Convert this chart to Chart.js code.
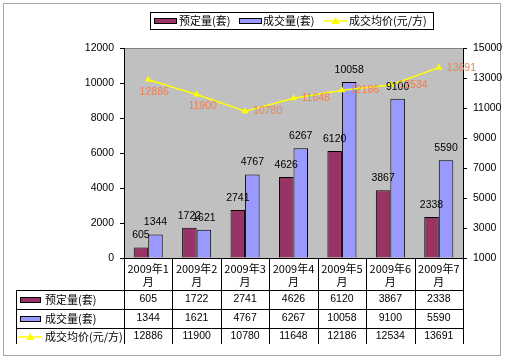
<!DOCTYPE html>
<html><head><meta charset="utf-8">
<script src="https://cdn.jsdelivr.net/npm/chart.js@4"></script>
<style>html,body{margin:0;padding:0;background:#fff}canvas{display:block}</style>
</head><body>
<canvas id="c" width="505" height="359"></canvas>
<script>
const categories = ['2009年1月','2009年2月','2009年3月','2009年4月','2009年5月','2009年6月','2009年7月'];
const headerLines = [['2009年1','月'],['2009年2','月'],['2009年3','月'],['2009年4','月'],['2009年5','月'],['2009年6','月'],['2009年7','月']];
const seriesNames = ['预定量(套)','成交量(套)','成交均价(元/方)'];
const booked = [605,1722,2741,4626,6120,3867,2338];
const deals = [1344,1621,4767,6267,10058,9100,5590];
const avgPrice = [12886,11900,10780,11648,12186,12534,13691];
const leftTicks = [0,2000,4000,6000,8000,10000,12000];
const rightTicks = [1000,3000,5000,7000,9000,11000,13000,15000];
const priceLabelPos = ['below','below','right','right','right','right','right'];

const NUM_FONT = '10.5px "Liberation Sans", Arial, sans-serif';
const CJK_FONT = '11px "Noto Sans CJK SC", "Liberation Sans", sans-serif';
const COLORS = ['#993366','#9999FF','#FFFF00'];

const decor = {
  id:'decor',
  beforeDraw(chart){
    const {ctx, chartArea:a} = chart;
    ctx.save();
    ctx.fillStyle='#fff'; ctx.fillRect(0,0,chart.width,chart.height);
    ctx.strokeStyle='#A6A6A6'; ctx.lineWidth=1;
    ctx.strokeRect(3.5,3.5,497,352);
    ctx.fillStyle='#C0C0C0';
    ctx.fillRect(a.left,a.top,a.right-a.left,a.bottom-a.top);
    ctx.strokeStyle='#808080';
    ctx.beginPath(); ctx.moveTo(a.left,a.top+0.5); ctx.lineTo(a.right,a.top+0.5); ctx.stroke();
    ctx.restore();
  },
  afterDraw(chart){
    const {ctx, chartArea:a, scales} = chart;
    const x = scales.x;
    ctx.save();
    // bar value labels
    ctx.font = NUM_FONT; ctx.fillStyle='#000'; ctx.textAlign='center'; ctx.textBaseline='middle';
    [0,1].forEach(di=>{
      const meta = chart.getDatasetMeta(di);
      meta.data.forEach((el,i)=>{
        ctx.fillText(String(chart.data.datasets[di].data[i]), el.x, el.y-12);
      });
    });
    // line labels
    ctx.fillStyle='#F07F4F';
    const lm = chart.getDatasetMeta(2);
    lm.data.forEach((el,i)=>{
      const v = String(avgPrice[i]);
      if(priceLabelPos[i]==='below'){ ctx.textAlign='center'; ctx.fillText(v, el.x+6, el.y+12); }
      else { ctx.textAlign='left'; ctx.fillText(v, el.x+8, el.y); }
    });
    // legend
    const lx0=150.5, ly0=12.5, lx1=433.5, ly1=29.5;
    ctx.strokeStyle='#000'; ctx.lineWidth=1;
    ctx.strokeRect(lx0,ly0,lx1-lx0,ly1-ly0);
    const ly = 21;
    ctx.font = CJK_FONT; ctx.textAlign='left'; ctx.fillStyle='#000';
    ctx.fillStyle=COLORS[0]; ctx.fillRect(154,18,22,6); ctx.strokeRect(154.5,18.5,22,5);
    ctx.fillStyle='#000'; ctx.fillText(seriesNames[0],179,ly);
    ctx.fillStyle=COLORS[1]; ctx.fillRect(239,18,22,6); ctx.strokeStyle='#000'; ctx.strokeRect(239.5,18.5,22,5);
    ctx.fillStyle='#000'; ctx.fillText(seriesNames[1],263,ly);
    drawLineKey(ctx,324,347,ly);
    ctx.fillStyle='#000'; ctx.font = CJK_FONT; ctx.fillText(seriesNames[2],349,ly);
    // data table
    const top=a.bottom, rowY=[258,290,309,328,344];
    const n = categories.length;
    const bounds=[];
    for(let i=0;i<=n;i++){ bounds.push(i===0?a.left:(i===n?a.right:(x.getPixelForValue(i-1)+x.getPixelForValue(i))/2)); }
    ctx.strokeStyle='#000'; ctx.lineWidth=1;
    ctx.beginPath();
    bounds.forEach(bx=>{ const px=Math.round(bx)+0.5; ctx.moveTo(px,top); ctx.lineTo(px,rowY[4]); });
    ctx.moveTo(16.5,rowY[1]); ctx.lineTo(16.5,rowY[4]);
    ctx.moveTo(a.left,top+0.5); ctx.lineTo(a.right,top+0.5);
    [1,2,3].forEach(r=>{ ctx.moveTo(16,rowY[r]+0.5); ctx.lineTo(Math.round(a.right)+1,rowY[r]+0.5); });
    ctx.stroke();
    ctx.fillStyle='#000'; ctx.textAlign='center';
    for(let i=0;i<n;i++){
      const cx = x.getPixelForValue(i);
      ctx.font = CJK_FONT;
      ctx.fillText(headerLines[i][0], cx, 268.5);
      ctx.fillText(headerLines[i][1], cx, 282);
      ctx.font = NUM_FONT;
      ctx.fillText(String(booked[i]), cx, 299.5);
      ctx.fillText(String(deals[i]), cx, 318.5);
      ctx.fillText(String(avgPrice[i]), cx, 336.5);
    }
    ctx.textAlign='left'; ctx.font=CJK_FONT;
    ctx.fillStyle=COLORS[0]; ctx.fillRect(20,297,20,6); ctx.strokeRect(20.5,297.5,20,5);
    ctx.fillStyle='#000'; ctx.fillText(seriesNames[0],45,299.5);
    ctx.fillStyle=COLORS[1]; ctx.fillRect(20,316,20,6); ctx.strokeRect(20.5,316.5,20,5);
    ctx.fillStyle='#000'; ctx.fillText(seriesNames[1],45,318.5);
    drawLineKey(ctx,18,42,337);
    ctx.fillStyle='#000'; ctx.font=CJK_FONT; ctx.fillText(seriesNames[2],45,336.5);
    ctx.restore();
  }
};
function drawLineKey(ctx,x0,x1,y){
  ctx.save();
  ctx.strokeStyle=COLORS[2]; ctx.lineWidth=1.5;
  ctx.beginPath(); ctx.moveTo(x0,y); ctx.lineTo(x1,y); ctx.stroke();
  const cx=(x0+x1)/2;
  ctx.fillStyle=COLORS[2];
  ctx.beginPath(); ctx.moveTo(cx,y-4); ctx.lineTo(cx+4,y+3); ctx.lineTo(cx-4,y+3); ctx.closePath(); ctx.fill();
  ctx.restore();
}
const tickFont = {family:'"Liberation Sans", Arial, sans-serif', size:10.5};

new Chart(document.getElementById('c'), {
  type:'bar',
  data:{
    labels: categories,
    datasets:[
      {label:seriesNames[0], data:booked, backgroundColor:COLORS[0], borderColor:'#000', borderWidth:1, yAxisID:'y', order:1, categoryPercentage:0.6, barPercentage:1},
      {label:seriesNames[1], data:deals, backgroundColor:COLORS[1], borderColor:'#000', borderWidth:1, yAxisID:'y', order:1, categoryPercentage:0.6, barPercentage:1},
      {type:'line', label:seriesNames[2], data:avgPrice, borderColor:COLORS[2], backgroundColor:COLORS[2], borderWidth:1.5, pointStyle:'triangle', pointRadius:4, pointBorderWidth:0, tension:0, yAxisID:'y1', order:0}
    ]
  },
  options:{
    responsive:false, animation:false, devicePixelRatio:1,
    layout:{padding:{left:0,right:0,top:48,bottom:101}},
    plugins:{legend:{display:false}, tooltip:{enabled:false}},
    scales:{
      x:{display:false, offset:true},
      y:{position:'left', min:0, max:12000,
         afterBuildTicks:(s)=>{ s.ticks = leftTicks.map(v=>({value:v})); },
         afterFit:(s)=>{ s.width=124; },
         grid:{drawOnChartArea:false, drawTicks:true, tickLength:4, color:'#000'},
         border:{display:true, color:'#000'},
         ticks:{padding:6, color:'#000', font:tickFont, callback:(v)=>String(v)}},
      y1:{position:'right', min:1000, max:15000,
         afterBuildTicks:(s)=>{ s.ticks = rightTicks.map(v=>({value:v})); },
         afterFit:(s)=>{ s.width=42; },
         grid:{drawOnChartArea:false, drawTicks:true, tickLength:4, color:'#000'},
         border:{display:true, color:'#000'},
         ticks:{padding:6, color:'#000', font:tickFont, callback:(v)=>String(v)}}
    }
  },
  plugins:[decor]
});
</script>
</body></html>
